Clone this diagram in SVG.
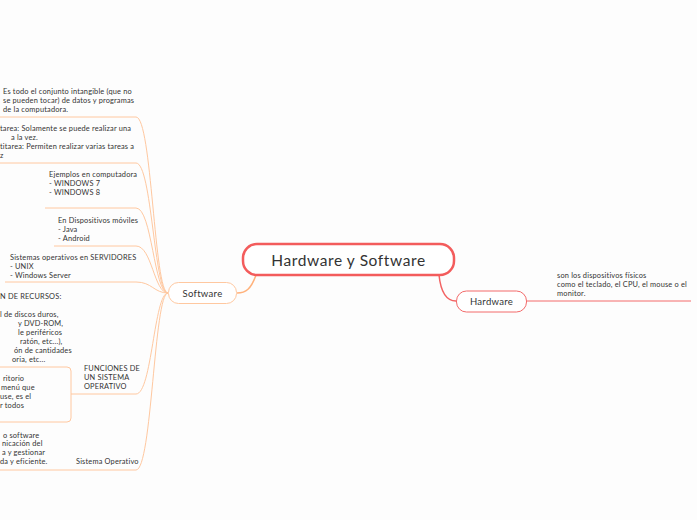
<svg xmlns="http://www.w3.org/2000/svg" width="697" height="520" viewBox="0 0 697 520">
<style>
text{font-family:Lato,"Noto Sans",sans-serif;fill:#333}
.s{font-size:7.4px;letter-spacing:0.18px}
.b{fill:none;stroke:#ffc8a0;stroke-width:1}
.h{fill:none;stroke:#f36b6b;stroke-width:1}
</style>
<rect width="697" height="520" fill="#fdfdfd"/>
<g id="connectors">
<path class="b" d="M0,117 H136 C152,117 154,293 168,293"/>
<path class="b" d="M0,163 H136 C152,163 154,293 168,293"/>
<path class="b" d="M45,208 H136 C152,208 154,293 168,293"/>
<path class="b" d="M54,246 H136 C152,246 154,293 168,293"/>
<path class="b" d="M5,282 H136 C152,282 154,293 168,293"/>
<path class="b" d="M71,394 H136 C152,394 154,293 168,293"/>
<path class="b" d="M0,470 H136 C152,470 154,293 168,293"/>
<path d="M256,275 C251,289 246,293 237,293" fill="none" stroke="#ffb27c" stroke-width="1.5"/>
<path d="M439,275 C441,294 448,301 456,301" fill="none" stroke="#f36262" stroke-width="1.5"/>
<path class="h" d="M527,301 H691"/>
</g>
<g id="root">
<rect x="243" y="244" width="211" height="31" rx="14" fill="#fff" stroke="#f35c5c" stroke-width="2.5"/>
<text x="348.5" y="265.5" text-anchor="middle" font-size="15.5" letter-spacing="0.6">Hardware y Software</text>
</g>
<g id="software">
<rect x="168.5" y="282.5" width="68" height="21" rx="10" fill="#fff" stroke="#ffc8a0" stroke-width="1"/>
<text x="202.5" y="296.5" text-anchor="middle" font-size="9.5" letter-spacing="0.3">Software</text>
</g>
<g id="hardware">
<rect x="456.5" y="291" width="70" height="21" rx="10" fill="#fff" stroke="#f36b6b" stroke-width="1"/>
<text x="491.5" y="305" text-anchor="middle" font-size="9.5" letter-spacing="0.3">Hardware</text>
</g>
<g id="hardware-desc">
<text class="s" x="557" y="278">son los dispositivos físicos</text>
<text class="s" x="557" y="287">como el teclado, el CPU, el mouse o el</text>
<text class="s" x="557" y="296">monitor.</text>
</g>
<g id="sw-def">
<text class="s" x="3" y="94">Es todo el conjunto intangible (que no</text>
<text class="s" x="3" y="103">se pueden tocar) de datos y programas</text>
<text class="s" x="3" y="112">de la computadora.</text>
</g>
<g id="sw-tareas">
<text class="s" x="0" y="131">tarea: Solamente se puede realizar una</text>
<text class="s" x="11" y="140">a la vez.</text>
<text class="s" x="0" y="149">titarea: Permiten realizar varias tareas a</text>
<text class="s" x="0" y="158">z</text>
</g>
<g id="sw-computadora">
<text class="s" x="49" y="177">Ejemplos en computadora</text>
<text class="s" x="49" y="186">- WINDOWS 7</text>
<text class="s" x="49" y="195">- WINDOWS 8</text>
</g>
<g id="sw-moviles">
<text class="s" x="58" y="223">En Dispositivos móviles</text>
<text class="s" x="58" y="232">- Java</text>
<text class="s" x="58" y="241">- Android</text>
</g>
<g id="sw-servidores">
<text class="s" x="10" y="260">Sistemas operativos en SERVIDORES</text>
<text class="s" x="10" y="269">- UNIX</text>
<text class="s" x="10" y="278">- Windows Server</text>
</g>
<g id="recursos">
<text class="s" x="0" y="299">N DE RECURSOS:</text>
<text class="s" x="0" y="317">l de discos duros,</text>
<text class="s" x="18" y="326">y DVD-ROM,</text>
<text class="s" x="18" y="335">le periféricos</text>
<text class="s" x="20" y="344">ratón, etc...),</text>
<text class="s" x="14" y="353">ón de cantidades</text>
<text class="s" x="12" y="362">oria, etc...</text>
</g>
<g id="escritorio">
<rect x="-20" y="367" width="91" height="55" rx="4" fill="none" stroke="#ffc8a0" stroke-width="1"/>
<text class="s" x="3" y="381">ritorio</text>
<text class="s" x="1" y="390">menú que</text>
<text class="s" x="0" y="399">use, es el</text>
<text class="s" x="0" y="408">r todos</text>
</g>
<g id="funciones">
<text class="s" x="84" y="371">FUNCIONES DE</text>
<text class="s" x="84" y="380">UN SISTEMA</text>
<text class="s" x="84" y="389">OPERATIVO</text>
</g>
<g id="so-desc">
<text class="s" x="3" y="438">o software</text>
<text class="s" x="2" y="446">nicación del</text>
<text class="s" x="2" y="455">a y gestionar</text>
<text class="s" x="0" y="464">da y eficiente.</text>
</g>
<g id="sistema-operativo">
<text class="s" x="76" y="464">Sistema Operativo</text>
</g>
</svg>
